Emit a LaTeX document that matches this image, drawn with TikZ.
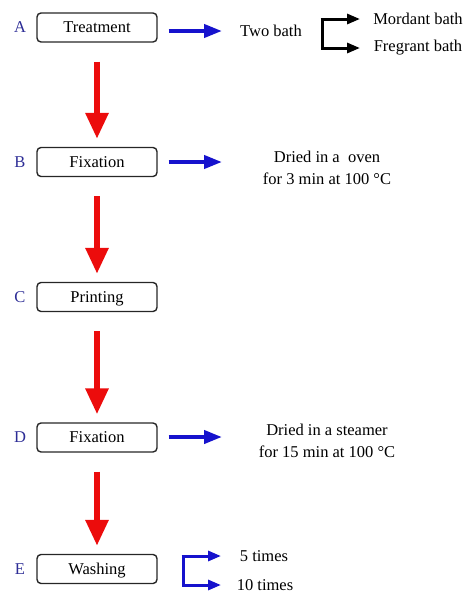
\documentclass[tikz,border=0pt]{standalone}
\usepackage{fontspec}
\setmainfont{Liberation Serif}
\usetikzlibrary{arrows.meta}
\definecolor{stepred}{RGB}{236,12,12}
\definecolor{sideblue}{RGB}{22,18,205}
\definecolor{letterblue}{RGB}{45,45,150}
\tikzset{
  x=1pt,y=1pt,
  every node/.style={font=\fontsize{16.5}{22}\selectfont},
  stepbox/.style={draw=black!85, line width=1.4pt, rounded corners=4pt,
    minimum width=120pt, minimum height=29pt, inner sep=0pt,
    text height=10.5pt, text depth=0pt},
  letter/.style={text=letterblue},
  flow/.style={draw=stepred, line width=6pt,
    -{Triangle[width=22pt,length=26pt]}, shorten <=19pt, shorten >=8pt},
  side/.style={draw=sideblue, line width=4pt, -{Triangle[width=13pt,length=18pt]}},
  fork/.style={line width=3pt, -{Triangle[width=10pt,length=13pt]}},
  note/.style={align=center}
}
\begin{document}
\begin{tikzpicture}
\useasboundingbox (0,0) rectangle (467,-595);

% main process steps
\node[stepbox] (A) at (97,-27.5) {Treatment};
\node[stepbox] (B) at (97,-162) {Fixation};
\node[stepbox] (C) at (97,-297) {Printing};
\node[stepbox] (D) at (97,-437.5) {Fixation};
\node[stepbox] (E) at (97,-569) {Washing};

\node[letter] (la) at (20,-27.5) {A};
\node[letter] (lb) at (20,-162) {B};
\node[letter] (lc) at (20,-297) {C};
\node[letter] (ld) at (20,-437.5) {D};
\node[letter] (le) at (20,-569) {E};

% red flow between steps
\draw[flow] (A.south) -- (B.north);
\draw[flow] (B.south) -- (C.north);
\draw[flow] (C.south) -- (D.north);
\draw[flow] (D.south) -- (E.north);

% side notes
\node (two) at (271,-31) {Two bath};
\node (mord) at (418,-19) {Mordant bath};
\node (freg) at (418,-48) {Fregrant bath};
\node[note] (oven) at (327,-168) {Dried in a \ oven\\for 3 min at 100 °C};
\node[note] (steam) at (327,-440.5) {Dried in a steamer\\for 15 min at 100 °C};
\node (five) at (264,-556) {5 times};
\node (ten) at (265,-585) {10 times};

\coordinate (ta) at (222,-31);
\coordinate (tb) at (222,-162);
\coordinate (td) at (222,-437);
\draw[side] ([xshift=11pt]A.east |- ta) -- (ta);
\draw[side] ([xshift=11pt]B.east) -- (tb);
\draw[side] ([xshift=11pt]D.east |- td) -- (td);

% two-bath fork
\coordinate (fk) at (322,-33);
\coordinate (fkend) at (360,-33);
\draw[fork] ([xshift=-1.5pt]fk |- mord) -- (fkend |- mord);
\draw[fork] (fk |- mord) -- (fk |- freg) -- (fkend |- freg);

% washing fork
\coordinate (wk) at (183,-570);
\coordinate (wkend) at (221,-570);
\draw[fork, sideblue] ([xshift=-1.5pt]wk |- five) -- (wkend |- five);
\draw[fork, sideblue] (wk |- five) -- (wk |- ten) -- (wkend |- ten);
\end{tikzpicture}
\end{document}
